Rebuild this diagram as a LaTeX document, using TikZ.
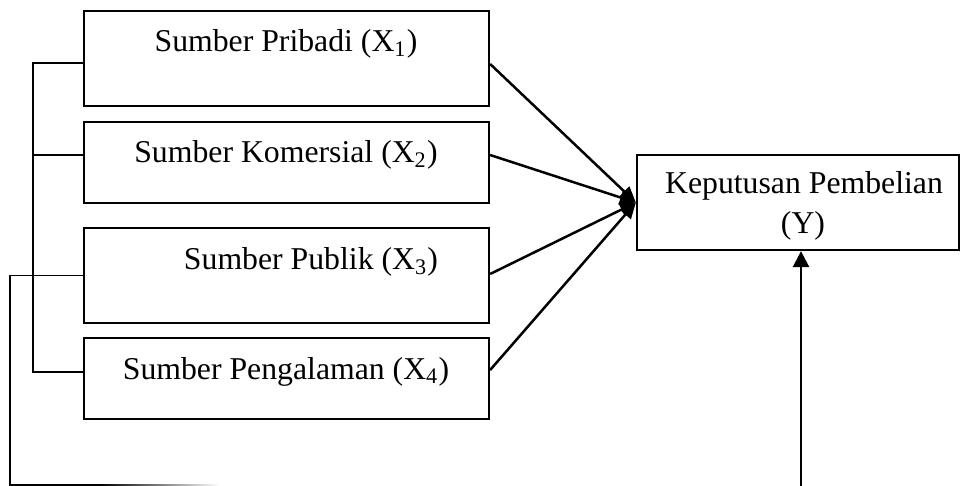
\documentclass[tikz,border=0pt]{standalone}
\usepackage{fontspec}
\setmainfont{Liberation Serif}
\usetikzlibrary{arrows.meta}

\tikzset{
  varbox/.style={draw, line width=0.9pt, rectangle, inner sep=0pt, minimum width=162pt},
  lbl/.style={anchor=base, inner sep=0pt, font=\fontsize{12.7}{15}\selectfont},
  link/.style={line width=1pt, -{Triangle[length=6.4pt,width=5.6pt]}},
  bus/.style={line width=0.65pt}
}

\begin{document}
\begin{tikzpicture}[x=0.4pt, y=-0.4pt]
  \useasboundingbox (0,0) rectangle (960,486);

  % independent variables
  \node[varbox, minimum height=38pt]   (b1) at (286.5,58.5)  {};
  \node[varbox, minimum height=32.4pt] (b2) at (286.5,162.5) {};
  \node[varbox, minimum height=38pt]   (b3) at (286.5,275.5) {};
  \node[varbox, minimum height=32.4pt] (b4) at (286.5,378.5) {};

  \node[lbl] (t1) at (286,52)  {Sumber Pribadi (X\textsubscript{1})};
  \node[lbl] (t2) at (286,163) {Sumber Komersial (X\textsubscript{2})};
  \node[lbl] (t3) at (311,270) {Sumber Publik (X\textsubscript{3})};
  \node[lbl] (t4) at (286,379) {Sumber Pengalaman (X\textsubscript{4})};

  % dependent variable
  \node[varbox, minimum width=128.8pt, minimum height=38pt] (Y) at (798,202.5) {};
  \node[lbl] (ty1) at (804,194) {Keputusan Pembelian};
  \node[lbl] (ty2) at (803,233) {(Y)};

  % effects on the purchase decision
  \draw[link] ([yshift=-2.2pt]b1.east) -- (Y.west);
  \draw[link] ([yshift=3pt]b2.east)    -- (Y.west);
  \draw[link] ([yshift=0.6pt]b3.east)  -- (Y.west);
  \draw[link] ([yshift=3.4pt]b4.east)  -- (Y.west);

  % bracket joining X1, X2 and X4
  \coordinate (busTop) at (33,63);
  \coordinate (busBot) at (33,372);
  \draw[bus] ([yshift=-1.8pt]b1.west) -- (busTop) -- (busBot) -- ([yshift=2.6pt]b4.west);
  \draw[bus] ([yshift=3pt]b2.west) -- ([yshift=3pt]b2.west -| busTop);

  % loop from X3 round the bottom
  \coordinate (loopTop) at (10,275.5);
  \coordinate (loopBot) at (10,485);
  \coordinate (loopEnd) at (100,485);
  \draw[bus] (b3.west) -- (loopTop) -- (loopBot) -- (loopEnd);
  \shade[left color=black, right color=white] (100,484.2) rectangle (220,485.8);

  % simultaneous effect arrow
  \coordinate (vb) at (801,486);
  \draw[link, {Triangle[length=6.4pt,width=6.4pt]}-] (vb |- Y.south) -- (vb);
\end{tikzpicture}
\end{document}
